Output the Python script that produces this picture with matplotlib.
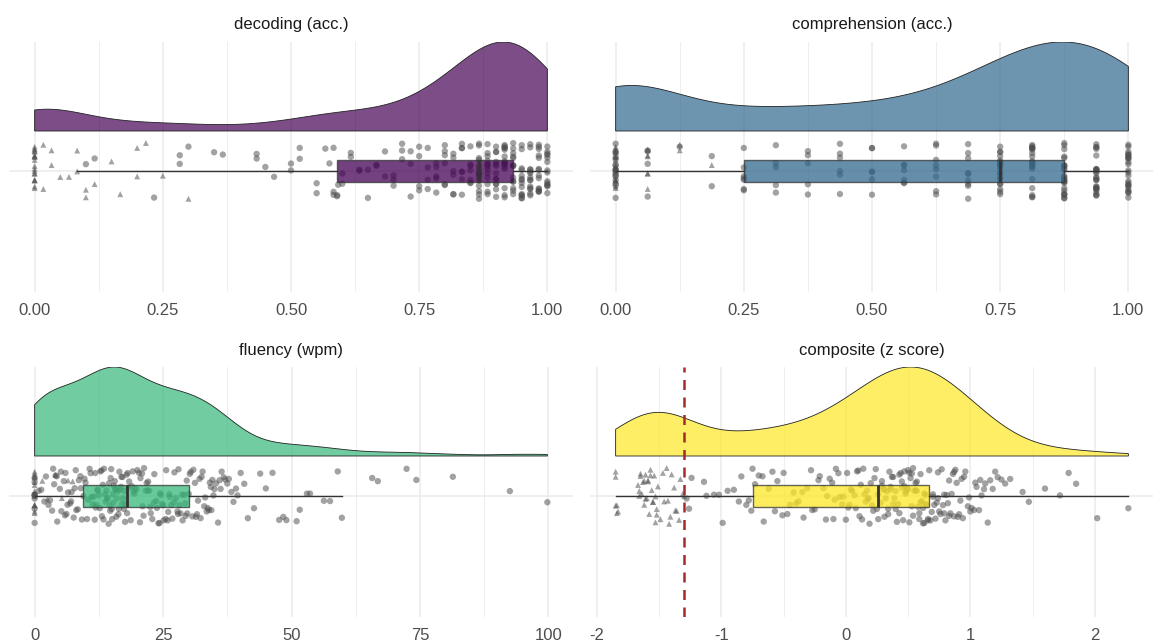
import numpy as np
import matplotlib.pyplot as plt
from matplotlib.patches import Polygon

plt.rcParams['font.family'] = ['Liberation Sans', 'DejaVu Sans']

# ---- decoding (acc.) : scored in 1/60 steps ----
decoding_steps = [36, 37, 38, 39, 40, 41, 42, 43, 44, 45, 46, 47, 48,
                  49, 50, 51, 52, 53, 54, 55, 56, 57, 58, 59, 60]
decoding_counts = [2, 2, 2, 2, 2, 2, 3, 3, 3, 4, 4, 5, 6,
                   6, 7, 7, 14, 13, 13, 15, 14, 14, 14, 14, 14]
decoding_low = [0.1, 0.117, 0.233, 0.283, 0.283, 0.3, 0.35, 0.367, 0.433,
                0.433, 0.45, 0.467, 0.5, 0.5, 0.517, 0.517, 0.55, 0.55, 0.567,
                0.575, 0.583, 0.583, 0.583, 0.59, 0.59, 0.592]
decoding_tri = [0, 0, 0, 0, 0, 0, 0, 0, 0, 0, 0, 0, 0, 0, 0, 0, 0, 0, 0, 0,
                0.017, 0.017, 0.033, 0.033, 0.05, 0.067, 0.083, 0.083, 0.1,
                0.1, 0.117, 0.15, 0.167, 0.2, 0.2, 0.217, 0.25, 0.3]

# ---- comprehension (acc.) : scored in 1/16 steps ----
comp_steps = [0, 1, 2, 3, 4, 5, 6, 7, 8, 9, 10, 11, 12, 13, 14, 15, 16]
comp_counts = [17, 4, 1, 2, 7, 5, 5, 6, 6, 7, 8, 9, 20, 20, 24, 24, 24]
comp_tri_counts = [15, 6, 2, 1, 0, 0, 0, 0, 0, 0, 0, 0, 0, 0, 0, 0, 0]

# ---- fluency (wpm) ----
fluency_tri = [0, 0, 0, 0, 0, 0, 0, 0, 0, 0, 0, 0, 0, 0,
               1.5, 2.5, 4.0, 5.3, 6.5, 7.4]
fluency = [0, 0, 0, 0, 0, 0, 0, 0,
           0.8, 1.3, 1.9, 2.2, 2.7, 3.0, 3.4, 3.6, 3.8, 4.1, 4.3, 4.4, 4.9,
           5.1, 5.2, 5.7, 5.9, 6.0, 6.2, 6.4, 6.5, 6.9, 7.1, 7.2, 7.6, 7.8,
           8.0, 8.1, 8.4, 8.6, 8.9, 9.0, 9.2, 9.5,
           9.7, 9.9, 10.2, 10.4, 10.7, 10.9, 11.1, 11.3, 11.5, 11.7, 11.8, 11.9,
           12.0, 12.2, 12.3, 12.5, 12.7, 12.8, 13.0, 13.1, 13.3, 13.4, 13.5,
           13.7, 13.8, 14.0, 14.1, 14.2, 14.4, 14.5, 14.6, 14.7, 14.8, 14.9,
           15.0, 15.1, 15.2, 15.3, 15.4, 15.6, 15.7, 15.8, 15.9, 16.0, 16.2,
           16.3, 16.4, 16.5, 16.6, 16.8, 16.9, 17.0, 17.1, 17.2, 17.4, 17.5,
           17.6, 17.7, 17.9, 18.0, 18.1, 18.3, 18.4,
           18.7, 18.9, 19.1, 19.3, 19.4, 19.5, 19.8, 20.0, 20.3, 20.5, 20.6,
           20.9, 21.0, 21.2, 21.3, 21.6, 21.8, 22.0, 22.1, 22.3, 22.5, 22.6,
           22.9, 23.2, 23.3, 23.7, 23.8, 24.1, 24.3, 24.4, 24.6, 24.8, 25.0,
           25.1, 25.5, 25.6, 25.9, 26.0, 26.2, 26.3, 26.6, 26.8, 27.1, 27.2,
           27.5, 27.8, 27.9, 28.0, 28.2, 28.4, 28.7, 28.8, 29.1, 29.3, 29.4,
           29.6, 29.7, 30.0, 30.2, 30.4, 30.7, 30.9,
           31.2, 31.4, 31.6, 31.8, 32.1, 32.3, 32.5, 32.7, 33.0, 33.2, 33.5,
           33.7, 33.9, 34.1, 34.3, 34.4, 34.6, 34.8, 35.0, 35.3, 35.7, 36.0,
           36.2, 36.4, 36.8, 37.1, 37.5, 37.8, 38.3, 38.7, 39.2, 39.5,
           40.1, 40.8, 41.5, 42.7, 43.9, 45.0, 46.3, 47.6, 48.4, 49.0,
           51.0, 51.6, 53.0, 53.6, 56.3, 57.5, 59.0, 59.8,
           65.7, 66.8, 72.4, 74.3, 81.4, 92.5, 99.8]

# ---- composite (z score) ----
composite_tri = [-1.85, -1.85, -1.84, -1.84, -1.85, -1.83,
                 -1.67, -1.66, -1.66, -1.65, -1.65, -1.64, -1.63, -1.62, -1.62,
                 -1.61, -1.61, -1.60, -1.59, -1.59, -1.58, -1.57, -1.57, -1.56,
                 -1.55, -1.55, -1.54, -1.53, -1.53, -1.52, -1.52, -1.51,
                 -1.49, -1.47, -1.46, -1.44, -1.43, -1.42, -1.41, -1.40, -1.38,
                 -1.37, -1.36, -1.34, -1.33, -1.31, -1.30]
composite = [-1.28, -1.26, -1.24, -1.14, -1.12, -1.06, -1.02, -0.99, -0.95,
             -0.90, -0.86, -0.84, -0.80, -0.78, -0.76, -0.75, -0.73,
             -0.70, -0.67, -0.66, -0.62, -0.59, -0.57, -0.55, -0.51, -0.50,
             -0.47, -0.45, -0.42, -0.40, -0.38, -0.35, -0.34, -0.31, -0.28,
             -0.27, -0.25, -0.22, -0.21, -0.18, -0.16, -0.15, -0.13, -0.11,
             -0.10, -0.09, -0.08, -0.06, -0.05, -0.03, -0.02, 0.00, 0.01, 0.02,
             0.03, 0.04, 0.05, 0.07, 0.08, 0.09, 0.10, 0.11, 0.12, 0.13, 0.14,
             0.15, 0.16, 0.17, 0.18, 0.18, 0.19, 0.20, 0.21, 0.22, 0.23, 0.24,
             0.25, 0.26, 0.26,
             0.28, 0.29, 0.29, 0.30, 0.31, 0.31, 0.32, 0.33, 0.34, 0.34, 0.35,
             0.36, 0.36, 0.37, 0.38, 0.38, 0.39, 0.40, 0.40, 0.41, 0.42, 0.43,
             0.43, 0.44, 0.45, 0.45, 0.46, 0.47, 0.47, 0.48, 0.48, 0.49, 0.50,
             0.50, 0.51, 0.51, 0.52, 0.53, 0.53, 0.54, 0.54, 0.55, 0.56, 0.56,
             0.57, 0.57, 0.58, 0.59, 0.59, 0.60, 0.60, 0.61, 0.62, 0.62, 0.63,
             0.63, 0.64, 0.64, 0.65, 0.66, 0.66, 0.67,
             0.68, 0.69, 0.70, 0.70, 0.71, 0.72, 0.73, 0.74, 0.74, 0.75, 0.76,
             0.77, 0.78, 0.79, 0.79, 0.80, 0.81, 0.82, 0.83, 0.83, 0.84, 0.85,
             0.86, 0.87, 0.87, 0.88, 0.89, 0.90, 0.91, 0.92, 0.93, 0.94, 0.95,
             0.96, 0.98, 0.99, 1.00, 1.01, 1.03, 1.04, 1.05, 1.07, 1.08, 1.09,
             1.11, 1.12, 1.14, 1.16, 1.18, 1.20, 1.22, 1.25, 1.28, 1.32, 1.42,
             1.47, 1.60, 1.72, 1.79, 1.85, 2.02, 2.27]
cutoff = -1.3

titles = ['decoding (acc.)', 'comprehension (acc.)', 'fluency (wpm)', 'composite (z score)']
colors = ['#440154', '#31688E', '#35B779', '#FDE725']

dec_circ = np.concatenate([np.repeat(np.array(decoding_steps) / 60, decoding_counts), decoding_low])
dec_tri = np.array(decoding_tri)
cmp_circ = np.repeat(np.array(comp_steps) / 16, np.array(comp_counts))
cmp_tri = np.repeat(np.array(comp_steps) / 16, np.array(comp_tri_counts))


def kde_nrd0(x, grid):
    # gaussian kernel, R's bw.nrd0 bandwidth
    n = len(x)
    q75, q25 = np.percentile(x, [75, 25])
    h = 0.9 * min(x.std(ddof=1), (q75 - q25) / 1.34) * n ** -0.2
    z = (grid[:, None] - x[None, :]) / h
    return np.exp(-0.5 * z ** 2).sum(axis=1)


def jitter(n, phase):
    # scattered vertical offsets in [-1, 1] (hash of the index)
    i = np.arange(n) + phase
    return (np.sin(i * 12.9898 + 78.233) * 43758.5453 % 1) * 2 - 1


W, H = 1153, 644
fig = plt.figure(figsize=(W / 100, H / 100), dpi=100)


def panel(left, top, right, bottom):
    return fig.add_axes([left / W, 1 - bottom / H, (right - left) / W, (bottom - top) / H])


def raincloud(ax, circ, tri, color, ticks, labels, minor):
    circ = np.asarray(circ, float)
    tri = np.asarray(tri, float)
    allv = np.concatenate([circ, tri])
    lo, hi = allv.min(), allv.max()
    rng = hi - lo
    grid = np.linspace(lo, hi, 512)
    dens = kde_nrd0(allv, grid)
    dens = 40 + dens / dens.max() * 89
    verts = np.column_stack([np.r_[lo, grid, hi], np.r_[40, dens, 40]])
    ax.add_patch(Polygon(verts, closed=True, facecolor=color, alpha=0.7,
                         edgecolor='none', zorder=2))
    ax.add_patch(Polygon(verts, closed=True, facecolor='none',
                         edgecolor='#222222', lw=0.6, zorder=2.1))
    ax.scatter(circ, jitter(len(circ), 3) * 28, s=21, color='#4d4d4d',
               alpha=0.52, edgecolors='none', zorder=3)
    ax.scatter(tri, jitter(len(tri), 500) * 28, s=18, marker='^', color='#4d4d4d',
               alpha=0.52, edgecolors='none', zorder=3)
    ax.boxplot(allv, positions=[0], widths=22, orientation='horizontal',
               patch_artist=True, showfliers=False, showcaps=False, whis=1.5,
               boxprops=dict(facecolor=color, alpha=0.75, edgecolor='#333333', lw=1.0),
               medianprops=dict(color='#333333', lw=2.0),
               whiskerprops=dict(color='#333333', lw=1.0), zorder=4)
    ax.set_xlim(lo - 0.05 * rng, hi + 0.05 * rng)
    ax.set_ylim(-121, 129)
    ax.set_xticks(ticks)
    ax.set_xticklabels(labels)
    ax.set_xticks(minor, minor=True)
    ax.set_yticks([0])
    ax.set_yticklabels([])
    ax.grid(which='major', axis='both', color='#ebebeb', lw=1.1, zorder=0)
    ax.grid(which='minor', axis='x', color='#ebebeb', lw=0.6, zorder=0)
    ax.set_axisbelow(True)
    ax.tick_params(which='both', length=0, pad=8, labelsize=12, labelcolor='#4d4d4d')
    for s in ax.spines.values():
        s.set_visible(False)


ax1 = panel(9, 42, 573, 292)
raincloud(ax1, dec_circ, dec_tri, colors[0], [0, 0.25, 0.5, 0.75, 1.0],
          ['0.00', '0.25', '0.50', '0.75', '1.00'], [0.125, 0.375, 0.625, 0.875])
ax2 = panel(590, 42, 1154, 292)
raincloud(ax2, cmp_circ, cmp_tri, colors[1], [0, 0.25, 0.5, 0.75, 1.0],
          ['0.00', '0.25', '0.50', '0.75', '1.00'], [0.125, 0.375, 0.625, 0.875])
ax3 = panel(9, 367, 573, 617)
raincloud(ax3, fluency, fluency_tri, colors[2], [0, 25, 50, 75, 100],
          ['0', '25', '50', '75', '100'], [12.5, 37.5, 62.5, 87.5])
ax4 = panel(590, 367, 1154, 617)
raincloud(ax4, composite, composite_tri, colors[3], [-2, -1, 0, 1, 2],
          ['-2', '-1', '0', '1', '2'], [-1.5, -0.5, 0.5, 1.5])
ax4.axvline(cutoff, color='#a52a2a', lw=1.8, ls=(0, (4, 3)), zorder=5)

for ax, t in zip([ax1, ax2, ax3, ax4], titles):
    pos = ax.get_position()
    fig.text(pos.x0 + pos.width / 2, pos.y1 + 17 / H, t, ha='center', va='center',
             fontsize=12, color='#1a1a1a')

fig.savefig('out.png', dpi=100)
